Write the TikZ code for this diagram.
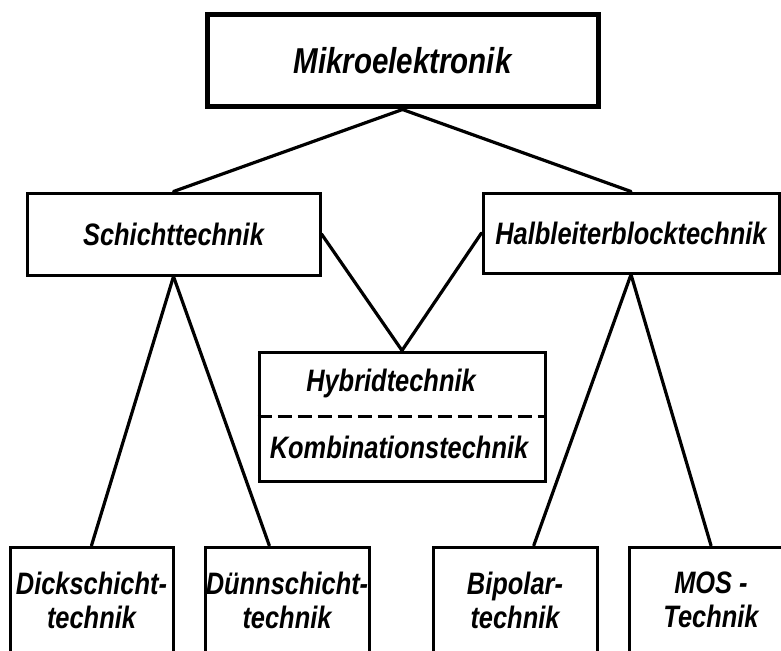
\documentclass[tikz,border=0pt]{standalone}
\usepackage{fontspec}
\setmainfont{Liberation Sans}[FakeStretch=0.82]
\usetikzlibrary{positioning}
\tikzset{
  box/.style={draw,line width=3pt,inner sep=0pt,align=center,
    font=\fontsize{31}{34}\selectfont\bfseries\itshape},
  label text/.style={inner sep=0pt,font=\fontsize{31}{34}\selectfont\bfseries\itshape},
  link/.style={line width=3.2pt,line cap=round}
}
\begin{document}
\begin{tikzpicture}[x=1pt,y=-1pt]
\useasboundingbox (0,0) rectangle (781,650);
\clip (0,0) rectangle (781,650);
%boxes
\node[box,line width=5pt,minimum width=391pt,minimum height=92pt,
  font=\fontsize{36}{40}\selectfont\bfseries\itshape] (mikro) at (402.5,61) {Mikroelektronik};
\node[box,minimum width=293pt,minimum height=82pt] (schicht) at (173.5,234) {Schichttechnik};
\node[box,minimum width=296pt,minimum height=80pt] (halb) at (631,233) {Halbleiterblocktechnik};
\node[box,minimum width=286pt,minimum height=129pt] (hybrid) at (402,416.5) {};
\node[label text] (hyb) at ([shift={(-11,-33)}]hybrid.center) {Hybridtechnik};
\node[label text] (komb) at ([shift={(-3,31)}]hybrid.center) {Kombinationstechnik};
\draw[line width=2.6pt,dash pattern=on 14pt off 6pt] (hybrid.west)--(hybrid.east);
\node[box,minimum width=163pt,minimum height=106pt] (dick) at (91.5,600) {Dickschicht-\\technik};
\node[box,minimum width=164pt,minimum height=106pt] (duenn) at (287,600) {Dünnschicht-\\technik};
\node[box,minimum width=164pt,minimum height=106pt] (bipolar) at (515,600) {Bipolar-\\technik};
\node[box,minimum width=164pt,minimum height=106pt] (mos) at (711,600) {MOS -\\Technik};
%lines
\draw[link] (mikro.south)--(schicht.north);
\draw[link] (mikro.south)--(halb.north);
\draw[link] (schicht.east)--(hybrid.north);
\draw[link] (halb.west)--(hybrid.north);
\draw[link] (schicht.south)--(dick.north);
\draw[link] (schicht.south)--(duenn.108);
\draw[link] (halb.south)--(bipolar.71);
\draw[link] (halb.south)--(mos.north);
\end{tikzpicture}
\end{document}
